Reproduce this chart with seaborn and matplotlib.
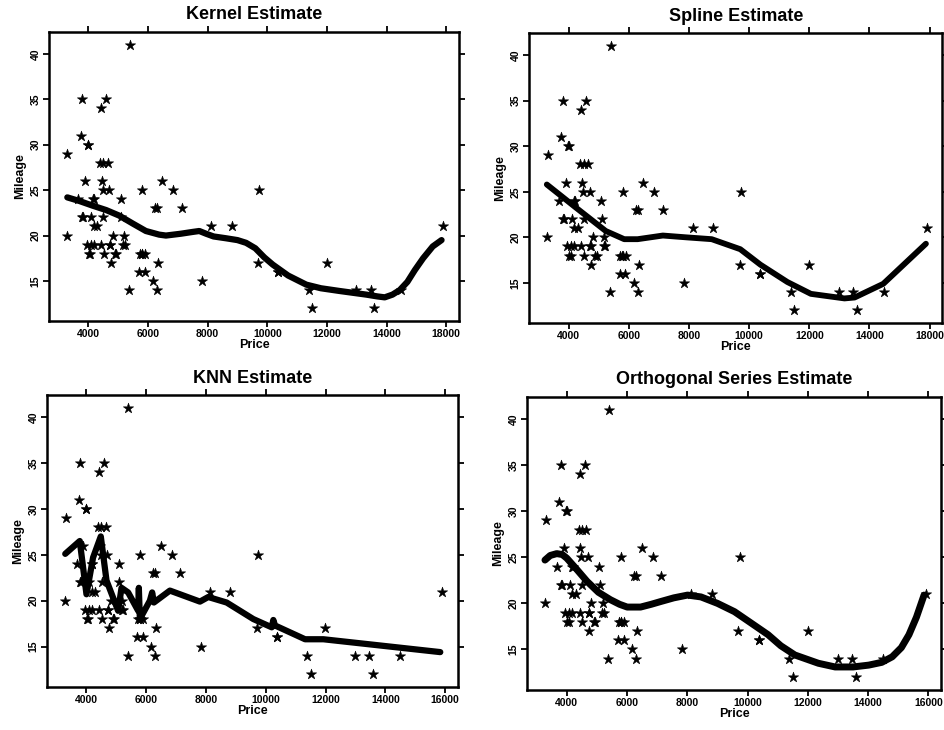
import numpy as np
import pandas as pd
import matplotlib
matplotlib.use('Agg')
import matplotlib.pyplot as plt
import seaborn as sns

# auto data: price and mileage for 74 cars
price = [4099, 4749, 3799, 4816, 7827, 5788, 4453, 5189, 10372, 4082,
         11385, 14500, 15906, 3299, 5705, 4504, 5104, 3667, 3955, 3984,
         4010, 5886, 6342, 4389, 4187, 11497, 13594, 13466, 3829, 5379,
         6165, 4516, 6303, 3291, 8814, 5172, 4733, 4890, 4181, 4195,
         10371, 4647, 4425, 4482, 6486, 4060, 5798, 4934, 5222, 4723,
         4424, 4172, 9690, 6295, 9735, 6229, 4589, 5079, 8129, 4296,
         5799, 4499, 3995, 12990, 3895, 3798, 5899, 3748, 5719, 7140,
         5397, 4697, 6850, 11995]
mileage = [22, 17, 22, 20, 15, 18, 26, 20, 16, 19,
           14, 14, 21, 29, 16, 22, 22, 24, 19, 30,
           18, 16, 17, 28, 21, 12, 12, 14, 22, 14,
           15, 18, 14, 20, 21, 19, 19, 18, 19, 24,
           16, 28, 34, 25, 26, 18, 18, 18, 19, 19,
           19, 24, 17, 23, 25, 23, 35, 24, 21, 21,
           25, 28, 30, 14, 26, 35, 18, 31, 18, 23,
           41, 25, 25, 17]

# curves
kernel_x = [3294, 3700, 4134, 4600, 5032, 5500, 5929, 6376, 6602, 7100, 7500,
            7721, 7950, 8200, 8618, 9000, 9290, 9600, 9900, 10186, 10700, 11308,
            11800, 12427, 13323, 13700, 13939, 14200, 14444, 14700, 14950, 15227,
            15550, 15846]
kernel_y = [24.2, 23.8, 23.3, 22.8, 22.2, 21.3, 20.5, 20.1, 20.0, 20.2, 20.4,
            20.5, 20.2, 19.9, 19.7, 19.5, 19.2, 18.6, 17.6, 16.8, 15.6, 14.6,
            14.2, 13.9, 13.5, 13.3, 13.2, 13.5, 14.0, 14.9, 16.2, 17.5,
            18.8, 19.5]

spline_x = [3272, 4225, 5231, 5846, 6292, 7131, 7915, 8755, 9705, 10376,
            11272, 12054, 13171, 13507, 14460, 15879]
spline_y = [25.8, 23.3, 20.7, 19.8, 19.8, 20.2, 20.0, 19.8, 18.7, 17.0,
            15.1, 13.8, 13.3, 13.4, 14.9, 19.3]

knn_x = [3290, 3776, 4000, 4221, 4479, 4670, 5059, 5173, 5394, 5729, 5752,
         5786, 6121, 6198, 6255, 6791, 7796, 8074, 8690, 9581, 10198, 10251,
         10308, 11313, 11926, 13602, 15836]
knn_y = [25.1, 26.5, 20.7, 24.7, 27.0, 22.2, 18.9, 21.4, 20.9, 18.9, 21.4,
         18.0, 20.0, 20.9, 19.8, 21.1, 19.9, 20.4, 19.8, 18.0, 17.1, 17.9,
         17.3, 15.8, 15.8, 15.2, 14.4]

ortho_x = [3275, 3450, 3666, 3850, 4000, 4300, 4668, 5050, 5446, 5750, 6003,
           6447, 6800, 7115, 7550, 8007, 8451, 9000, 9563, 10100, 10678, 11100,
           11566, 12347, 12902, 13500, 14017, 14450, 14795, 15100, 15352, 15600,
           15853]
ortho_y = [24.7, 25.2, 25.4, 25.3, 24.9, 23.8, 22.4, 21.2, 20.4, 19.9, 19.6,
           19.6, 19.9, 20.2, 20.6, 20.9, 20.7, 20.0, 19.1, 17.9, 16.6, 15.4,
           14.4, 13.5, 13.1, 13.1, 13.3, 13.6, 14.2, 15.2, 16.6, 18.5,
           20.9]

xticks = [4000, 6000, 8000, 10000, 12000, 14000, 16000]
top_xticklabels = ['4000', '6000', '8000', '10000', '12000', '14000', '18000']
bottom_xticklabels = ['4000', '6000', '8000', '10000', '12000', '14000', '16000']
yticks = [15, 20, 25, 30, 35, 40]

sns.set_style("white")
plt.rcParams['font.family'] = ['Liberation Sans', 'DejaVu Sans']
plt.rcParams['text.color'] = 'black'
plt.rcParams['axes.labelcolor'] = 'black'
plt.rcParams['xtick.color'] = 'black'
plt.rcParams['ytick.color'] = 'black'

fig = plt.figure(figsize=(9.44, 7.3), dpi=100)

panels = [
    ('Kernel Estimate', kernel_x, kernel_y, [0.0519, 0.5603, 0.4343, 0.3959], top_xticklabels, 4.5),
    ('Spline Estimate', spline_x, spline_y, [0.5604, 0.5575, 0.4380, 0.3970], top_xticklabels, 4.2),
    ('KNN Estimate', knn_x, knn_y, [0.0498, 0.0589, 0.4354, 0.4000], bottom_xticklabels, 4.5),
    ('Orthogonal Series Estimate', ortho_x, ortho_y, [0.5583, 0.0548, 0.4390, 0.4014], bottom_xticklabels, 5.0),
]

points = pd.DataFrame({'Price': price, 'Mileage': mileage})

for title, cx, cy, rect, xlabels, lw in panels:
    ax = fig.add_axes(rect)
    sns.scatterplot(data=points, x='Price', y='Mileage', marker='*', s=60,
                    color='black', edgecolor='black', linewidth=0.4, ax=ax, zorder=3)
    curve = pd.DataFrame({'Price': cx, 'Mileage': cy})
    sns.lineplot(data=curve, x='Price', y='Mileage', sort=False, estimator=None,
                 color='black', linewidth=lw, ax=ax, zorder=4)
    ax.set_xlim(2680, 16430)
    ax.set_ylim(10.6, 42.4)
    ax.set_xticks(xticks)
    ax.set_xticklabels(xlabels, fontweight='bold')
    ax.set_yticks(yticks)
    ax.set_yticklabels([str(t) for t in yticks], rotation=90, va='center', fontweight='bold')
    ax.tick_params(axis='both', which='both', direction='out', length=4, width=1.3,
                   labelsize=7.5, pad=2, top=True, right=True, bottom=True, left=True,
                   colors='black')
    for sp in ax.spines.values():
        sp.set_visible(True)
        sp.set_linewidth(1.8)
        sp.set_color('black')
    ax.set_title(title, fontsize=13, pad=9, fontweight='bold')
    ax.set_xlabel('Price', fontsize=9, labelpad=0, fontweight='bold')
    ax.set_ylabel('Mileage', fontsize=9, labelpad=3, fontweight='bold')
    ax.grid(False)

plt.savefig('out.png', dpi=100)
plt.close()
